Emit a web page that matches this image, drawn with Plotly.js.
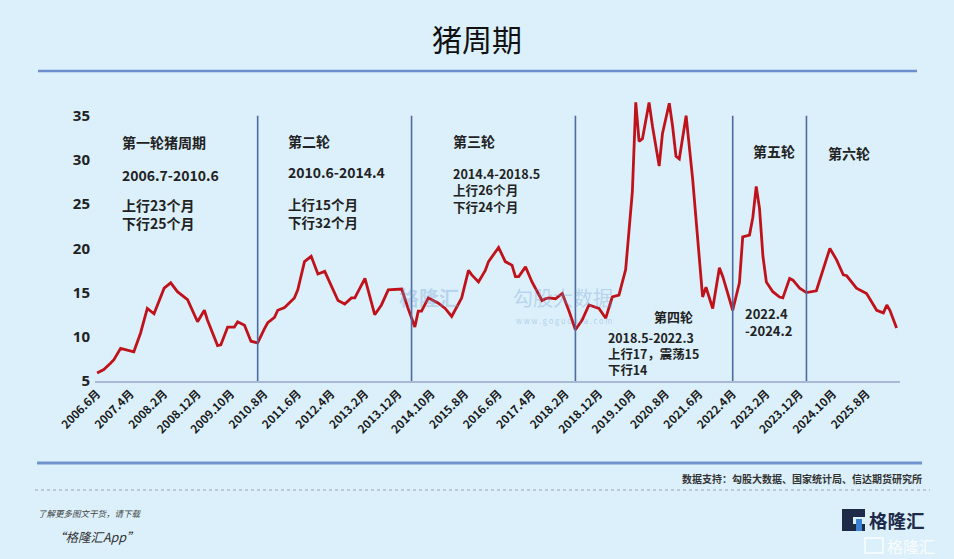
<!DOCTYPE html>
<html>
<head>
<meta charset="utf-8">
<script src="https://cdn.plot.ly/plotly-3.0.1.min.js"></script>
<style>
html,body{margin:0;padding:0;background:#dbf0fb;}
#chart{width:954px;height:559px;}
</style>
</head>
<body>
<div id="chart"></div>
<script>
// ---- data ----
const months = ["2006-06","2006-08","2006-10","2006-11","2007-01","2007-03","2007-05","2007-07","2007-09","2007-11",
"2008-02","2008-04","2008-06","2008-09","2008-12","2009-02","2009-03","2009-06","2009-07","2009-09",
"2009-11","2009-12","2010-02","2010-04","2010-06","2010-08","2010-09","2010-11","2010-12","2011-02",
"2011-05","2011-06","2011-08","2011-10","2011-12","2012-02","2012-04","2012-06","2012-08","2012-10",
"2012-11","2013-02","2013-05","2013-07","2013-09","2014-01","2014-03","2014-05","2014-06","2014-07",
"2014-09","2014-12","2015-02","2015-04","2015-07","2015-09","2015-10","2015-12","2016-02","2016-03",
"2016-06","2016-08","2016-10","2016-11","2016-12","2017-02","2017-04","2017-07","2017-08","2017-09",
"2017-11","2018-01","2018-03","2018-05","2018-07","2018-09","2018-12","2019-02","2019-04","2019-06",
"2019-08","2019-10","2019-11","2019-12","2020-01","2020-03","2020-04","2020-06","2020-07","2020-09",
"2020-10","2020-11","2020-12","2021-02","2021-04","2021-07","2021-08","2021-10","2021-12","2022-01",
"2022-04","2022-06","2022-07","2022-09","2022-10","2022-11","2022-12","2023-01","2023-02","2023-04",
"2023-06","2023-07","2023-09","2023-10","2023-12","2024-02","2024-05","2024-06","2024-09","2024-11",
"2025-01","2025-02","2025-04","2025-05","2025-07","2025-08","2025-11","2026-01","2026-02","2026-03","2026-05"];
const hogPrice = [5.9,6.3,7.0,7.4,8.7,8.5,8.3,10.4,13.2,12.6,
15.5,16.1,15.1,14.2,11.7,13.0,11.9,9.0,9.1,11.1,
11.1,11.7,11.3,9.5,9.3,10.9,11.6,12.2,13.0,13.3,
14.4,15.3,18.5,19.1,17.1,17.4,15.7,14.1,13.7,14.4,
14.4,16.6,12.5,13.6,15.3,15.4,13.2,11.1,12.9,12.9,
14.4,13.8,13.2,12.3,14.4,17.5,17.0,16.2,17.5,18.5,
20.1,18.5,18.1,16.8,16.8,17.9,16.2,14.1,14.3,14.4,
14.3,14.9,13.0,10.8,11.9,13.6,13.2,12.1,14.5,14.7,
17.6,26.4,36.5,32.1,32.4,36.5,33.8,29.3,33.0,36.4,
33.8,30.4,30.1,35.0,27.9,14.5,15.6,13.2,17.8,16.8,
13.0,16.1,21.3,21.5,23.5,27.0,24.5,19.1,16.2,15.1,
14.5,14.4,16.6,16.4,15.5,15.0,15.2,16.4,20.0,18.7,
17.0,16.9,15.9,15.5,15.1,14.9,13.0,12.7,13.6,13.0,11.0];
const tickDates = ["2006-06","2007-04","2008-02","2008-12","2009-10","2010-08","2011-06","2012-04","2013-02","2013-12",
"2014-10","2015-08","2016-06","2017-04","2018-02","2018-12","2019-10","2020-08","2021-06","2022-04",
"2023-02","2023-12","2024-10","2025-08"];
const tickLabels = ["2006.6月","2007.4月","2008.2月","2008.12月","2009.10月","2010.8月","2011.6月","2012.4月","2013.2月","2013.12月",
"2014.10月","2015.8月","2016.6月","2017.4月","2018.2月","2018.12月","2019.10月","2020.8月","2021.6月","2022.4月",
"2023.2月","2023.12月","2024.10月","2025.8月"];
const cycleBounds = ["2010-06","2014-04","2018-05","2022-04","2024-02"];
const yTicks = [5,10,15,20,25,30,35];

// ---- geometry helpers (pixel -> paper) ----
const L=95, R=900, T=98, B=381;
const px = x => (x-L)/(R-L);
const py = y => (B-y)/(B-T);

const FONT = 'Noto Sans CJK SC, Noto Sans, sans-serif';
const ann = [];
function txt(x,y,text,opt){
  opt = opt||{};
  ann.push({xref:'paper',yref:'paper',x:px(x),y:py(y),text:text,showarrow:false,
    xanchor:opt.xa||'left',yanchor:'middle',align:opt.xa||'left',borderpad:0,
    font:{family:FONT,size:opt.size||14,color:opt.color||'#222',weight:opt.weight||'bold',style:opt.style||'normal'}});
}
// cycle annotations
txt(121,142,'第一轮猪周期'); txt(121,175,'2006.7-2010.6'); txt(121,214,'上行23个月<br>下行25个月');
txt(287,141,'第二轮'); txt(287,172,'2010.6-2014.4'); txt(287,212.5,'上行15个月<br>下行32个月',{size:13.5});
txt(452,141,'第三轮'); txt(452,189.5,'2014.4-2018.5<br>上行26个月<br>下行24个月',{size:12.6});
txt(653,316,'第四轮',{size:13}); txt(607,353.5,'2018.5-2022.3<br>上行17，震荡15<br>下行14',{size:12.4});
txt(752,151,'第五轮'); txt(827,153,'第六轮');
txt(744,321.5,'2022.4<br>-2024.2',{size:13});
// watermark
txt(398,297,'格隆汇',{size:20,color:'rgba(110,150,205,0.33)',weight:'bold'});
txt(512,297,'勾股大数据',{size:20,color:'rgba(110,150,205,0.33)',weight:'normal'});
txt(515,320,'w w w . g o g u d a t a . c o m',{size:7.5,color:'rgba(110,150,205,0.4)',weight:'normal'});
// footer
txt(923,478,'数据支持：勾股大数据、国家统计局、信达期货研究所',{xa:'right',size:10,color:'#333'});
txt(37,513,'了解更多图文干货，请下载',{size:8.5,color:'#444',weight:'normal',style:'italic'});
txt(52,536,'“格隆汇App”',{size:12.5,color:'#333',weight:'normal',style:'italic'});
txt(868,520,'格隆汇',{size:18.5,color:'#1d2a48',weight:'bold'});
txt(886,546,'格隆汇',{size:16,color:'rgba(255,255,255,0.85)',weight:'normal'});

const shapes = [];
cycleBounds.forEach(d=>shapes.push({type:'line',xref:'x',yref:'y',x0:d,x1:d,y0:4.2,y1:35,
  line:{color:'#4e6aa3',width:1.6}}));
// title rule, bottom rule, dotted rule
shapes.push({type:'line',xref:'paper',yref:'paper',x0:px(38),x1:px(917),y0:py(71),y1:py(71),line:{color:'#6d8dcc',width:2.5}});
shapes.push({type:'line',xref:'paper',yref:'paper',x0:px(37),x1:px(922),y0:py(463),y1:py(463),line:{color:'#7393cd',width:3}});
shapes.push({type:'line',xref:'paper',yref:'paper',x0:px(35),x1:px(930),y0:py(490),y1:py(490),line:{color:'#9aa3ad',width:1,dash:'dot'}});
// logo G icon
shapes.push({type:'rect',xref:'paper',yref:'paper',x0:px(842),x1:px(865),y0:py(509),y1:py(531),fillcolor:'#1d2a48',line:{width:0}});
shapes.push({type:'rect',xref:'paper',yref:'paper',x0:px(853),x1:px(865),y0:py(517),y1:py(524),fillcolor:'#dbf0fb',line:{width:0}});
shapes.push({type:'rect',xref:'paper',yref:'paper',x0:px(856),x1:px(862),y0:py(519),y1:py(531),fillcolor:'#3b82d6',line:{width:0}});
shapes.push({type:'rect',xref:'paper',yref:'paper',x0:px(865),x1:px(883),y0:py(538),y1:py(553),fillcolor:'rgba(0,0,0,0)',line:{color:'rgba(255,255,255,0.85)',width:1.5}});

const trace = {x:months,y:hogPrice,type:'scatter',mode:'lines',
  line:{color:'#c0121b',width:2.8},hoverinfo:'skip'};

const layout = {
  width:954,height:559,
  paper_bgcolor:'#dbf0fb',plot_bgcolor:'#dbf0fb',
  margin:{l:L,r:954-R,t:T,b:559-B},
  showlegend:false,
  title:{text:'猪周期',x:0.5,xref:'container',y:1-40/559,yref:'container',yanchor:'middle',
    font:{family:FONT,size:30,color:'#111',weight:'normal'}},
  xaxis:{type:'date',range:['2006-05-13','2026-06-01'],tickmode:'array',tickvals:tickDates,ticktext:tickLabels,
    tickangle:-45,showgrid:false,zeroline:false,showline:true,linecolor:'#a9b8d4',linewidth:1.5,ticks:'',
    tickfont:{family:FONT,size:11.5,color:'#1a1a1a',weight:'bold'}},
  yaxis:{range:[5,37],tickmode:'array',tickvals:yTicks,showgrid:false,zeroline:false,showline:false,ticks:'',
    ticklabelstandoff:4,
    tickfont:{family:'Noto Sans, DejaVu Sans, sans-serif',size:15,color:'#222',weight:'bold'}},
  annotations:ann,shapes:shapes
};
Plotly.newPlot('chart',[trace],layout,{displayModeBar:false,staticPlot:true});
</script>
</body>
</html>
